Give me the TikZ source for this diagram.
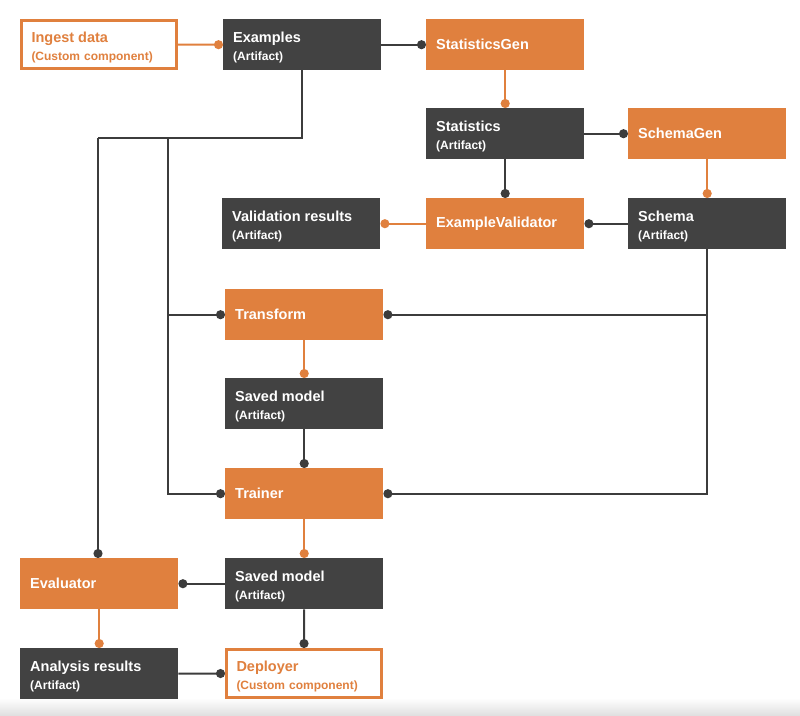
\documentclass[tikz,border=0pt]{standalone}
\usepackage{fontspec}
\setmainfont{Liberation Sans}
\usetikzlibrary{arrows.meta}
\definecolor{tfxorange}{RGB}{224,128,62}
\definecolor{tfxdark}{RGB}{66,66,66}
\definecolor{tfxline}{RGB}{60,60,60}
\tikzset{
  boxbase/.style={anchor=north west, minimum width=158pt, minimum height=51pt,
    inner xsep=10pt, inner ysep=0pt, text width=138pt, align=left,
    font=\bfseries\fontsize{12}{18}\selectfont},
  art/.style={boxbase, fill=tfxdark, text=white},
  comp/.style={boxbase, fill=tfxorange, text=white},
  custom/.style={boxbase, fill=white, draw=tfxorange, line width=3pt, text=tfxorange,
    minimum width=155pt, minimum height=48pt, text width=135pt},
  dline/.style={draw=tfxline, line width=2pt},
  dconn/.style={dline, -{Circle[length=9pt,width=9pt,fill=tfxline]}},
  oconn/.style={draw=tfxorange, line width=2pt, -{Circle[length=9pt,width=9pt,fill=tfxorange]}},
}
\newcommand{\mainlbl}[1]{{\fontsize{14.5}{18}\selectfont #1}}
\newcommand{\twolbl}[2]{{\fontsize{14.5}{18}\selectfont\rule{0pt}{17pt}#1}\\#2}
\begin{document}
\begin{tikzpicture}[x=1pt,y=-1pt]
\useasboundingbox (0,0) rectangle (800,715);
\shade[top color=white, bottom color=black!12] (0,698) rectangle (800,715);

\node[custom] (ing) at (20,19) {\twolbl{Ingest data}{(Custom component)}};
\node[art] (ex) at (223,19) {\twolbl{Examples}{(Artifact)}};
\node[comp] (sg) at (426,19) {\mainlbl{StatisticsGen}};
\node[art] (st) at (426,108) {\twolbl{Statistics}{(Artifact)}};
\node[comp] (schg) at (628,108) {\mainlbl{SchemaGen}};
\node[comp] (ev) at (426,198) {\mainlbl{ExampleValidator}};
\node[art] (schema) at (628,198) {\twolbl{Schema}{(Artifact)}};
\node[art] (vr) at (222,198) {\twolbl{Validation results}{(Artifact)}};
\node[comp] (tf) at (225,289) {\mainlbl{Transform}};
\node[art] (sm1) at (225,378) {\twolbl{Saved model}{(Artifact)}};
\node[comp] (trn) at (225,468) {\mainlbl{Trainer}};
\node[comp] (eval) at (20,558) {\mainlbl{Evaluator}};
\node[art] (sm2) at (225,558) {\twolbl{Saved model}{(Artifact)}};
\node[art] (ar) at (20,648) {\twolbl{Analysis results}{(Artifact)}};
\node[custom] (dep) at (225,648) {\twolbl{Deployer}{(Custom component)}};

\coordinate (j2) at (168,138);
\coordinate (j3) at (98,138);

\draw[oconn] (ing.east) -- (ex.west);
\draw[dconn] (ex.east) -- (sg.west);
\draw[oconn] (sg.south) -- (st.north);
\draw[dconn] (st.east) -- (schg.west);
\draw[dconn] (st.south) -- (ev.north);
\draw[oconn] (schg.south) -- (schema.north);
\draw[dconn] (schema.west) -- (ev.east);
\draw[oconn] (ev.west) -- (vr.east);

\draw[dline] (ex.south) |- (j3);
\draw[dconn] (j3) -- (j3 |- eval.north);
\draw[dconn] (j2) |- (trn.west);
\draw[dconn] (j2 |- tf.west) -- (tf.west);

\draw[dconn] (schema.south) |- (trn.east);
\draw[dconn] (schema.south |- tf.east) -- (tf.east);

\draw[oconn] (tf.south) -- (sm1.north);
\draw[dconn] (sm1.south) -- (trn.north);
\draw[oconn] (trn.south) -- (sm2.north);
\draw[dconn] (sm2.west) -- (eval.east);
\draw[oconn] (eval.south) -- (eval.south |- ar.north);
\draw[dconn] (sm2.south) -- (dep.north);
\draw[dconn] (ar.east) -- (dep.west);
\end{tikzpicture}
\end{document}
